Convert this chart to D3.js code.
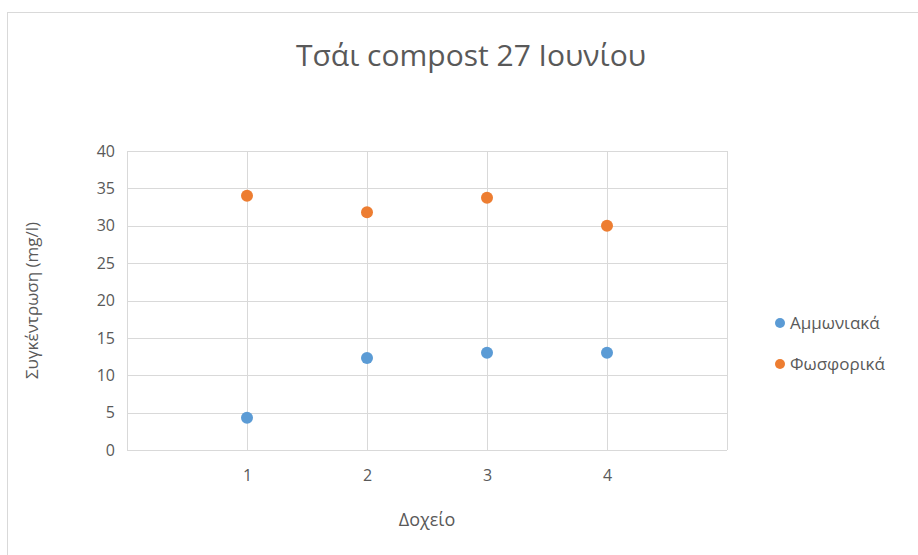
<!DOCTYPE html>
<html>
<head>
<meta charset="utf-8">
<script src="https://cdn.jsdelivr.net/npm/d3@7"></script>
<style>
  body { margin: 0; background: #fff; }
  text { font-family: "Open Sans", "Noto Sans", sans-serif; fill: #595959; }
</style>
</head>
<body>
<svg id="chart"></svg>
<script>
const width = 918;
const height = 555;

// data
const containers = [1, 2, 3, 4];
const ammonia = [4.3, 12.3, 13.0, 13.0];
const phosphate = [34.0, 31.8, 33.75, 30.0];
const seriesNames = ['Αμμωνιακά', 'Φωσφορικά'];
const seriesColors = ['#5B9BD5', '#ED7D31'];
const yTicks = [0, 5, 10, 15, 20, 25, 30, 35, 40];

const margin = {left: 127, right: 191, top: 151, bottom: 105};

const svg = d3.select('#chart')
    .attr('width', width)
    .attr('height', height);

// chart frame
svg.append('rect')
    .attr('x', 7.5).attr('y', 12.5)
    .attr('width', width).attr('height', height)
    .attr('fill', '#fff')
    .attr('stroke', '#d9d9d9');

const x = d3.scaleLinear().domain([0, 5]).range([margin.left, width - margin.right]);
const y = d3.scaleLinear().domain([0, 40]).range([height - margin.bottom, margin.top]);

// gridlines
const grid = svg.append('g');
grid.selectAll('line.h')
    .data(yTicks)
    .enter().append('line')
    .attr('x1', x(0)).attr('x2', x(5))
    .attr('y1', d => Math.round(y(d)) + 0.5)
    .attr('y2', d => Math.round(y(d)) + 0.5)
    .attr('stroke', '#d9d9d9');
grid.selectAll('line.v')
    .data([0, 1, 2, 3, 4, 5])
    .enter().append('line')
    .attr('y1', y(0)).attr('y2', y(40))
    .attr('x1', d => Math.round(x(d)) + 0.5)
    .attr('x2', d => Math.round(x(d)) + 0.5)
    .attr('stroke', '#d9d9d9');

// axes
const yAxis = svg.append('g')
    .attr('transform', `translate(${x(0)},0)`)
    .call(d3.axisLeft(y).tickValues(yTicks).tickSize(0).tickPadding(12));
yAxis.select('.domain').remove();
yAxis.selectAll('text').attr('font-size', 16).style('fill', '#595959');

const xAxis = svg.append('g')
    .attr('transform', `translate(0,${y(0)})`)
    .call(d3.axisBottom(x).tickValues(containers).tickFormat(d3.format('d')).tickSize(0).tickPadding(20));
xAxis.select('.domain').remove();
xAxis.selectAll('text').attr('font-size', 16).style('fill', '#595959');

// title and axis titles
svg.append('text')
    .attr('x', 471).attr('y', 66)
    .attr('text-anchor', 'middle')
    .attr('font-size', 30)
    .text('Τσάι compost 27 Ιουνίου');

svg.append('text')
    .attr('x', 427).attr('y', 526)
    .attr('text-anchor', 'middle')
    .attr('font-size', 18)
    .text('Δοχείο');

svg.append('text')
    .attr('transform', `translate(38, ${(y(0) + y(40)) / 2}) rotate(-90)`)
    .attr('text-anchor', 'middle')
    .attr('font-size', 17)
    .text('Συγκέντρωση (mg/l)');

// points
const series = [ammonia, phosphate];
series.forEach((vals, i) => {
    svg.append('g')
        .selectAll('circle')
        .data(vals)
        .enter().append('circle')
        .attr('cx', (d, j) => x(containers[j]))
        .attr('cy', d => y(d))
        .attr('r', 6)
        .attr('fill', seriesColors[i]);
});

// legend
const legend = svg.append('g')
    .selectAll('g')
    .data(seriesNames)
    .enter().append('g')
    .attr('transform', (d, i) => `translate(780, ${323 + i * 41})`);
legend.append('circle')
    .attr('r', 5)
    .attr('fill', (d, i) => seriesColors[i]);
legend.append('text')
    .attr('x', 10)
    .attr('dy', '0.35em')
    .attr('font-size', 17)
    .text(d => d);
</script>
</body>
</html>
